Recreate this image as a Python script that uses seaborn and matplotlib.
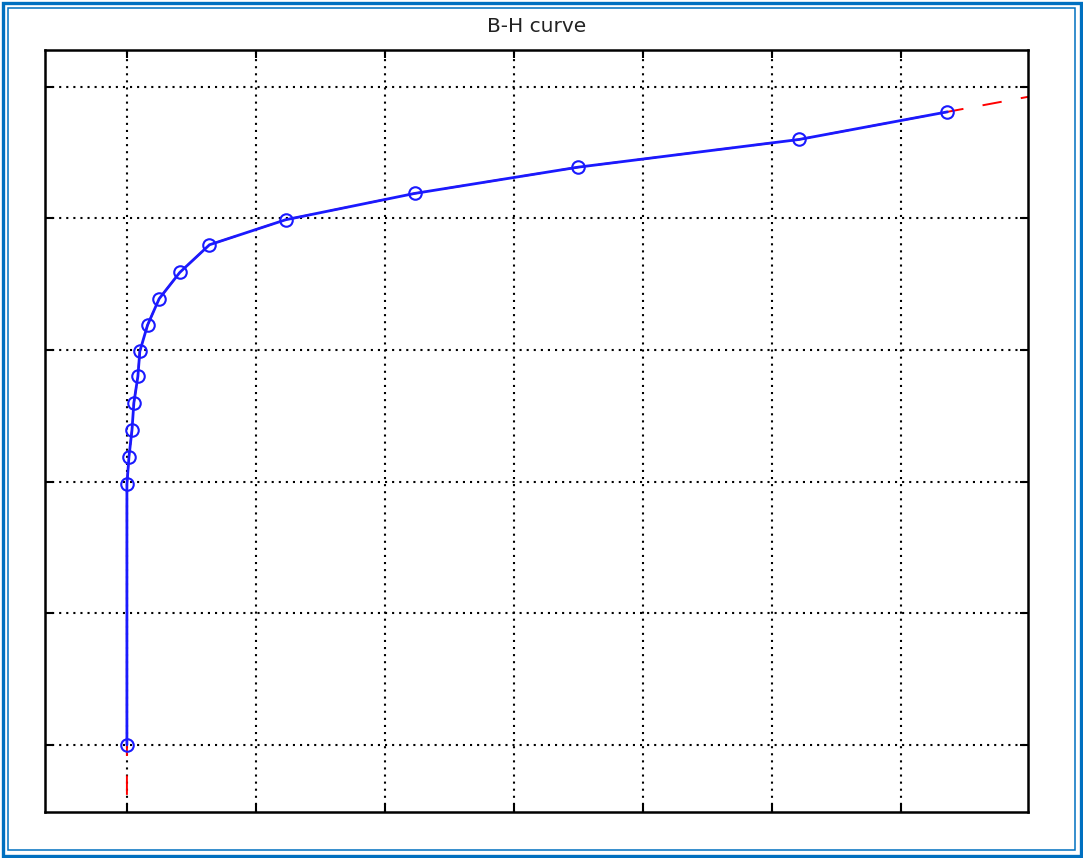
import numpy as np
import pandas as pd
import matplotlib
matplotlib.use("Agg")
import matplotlib.pyplot as plt
import matplotlib.patches as mpatches
import seaborn as sns

# Data (arbitrary units: grid spacing = 1)
H = [0.0, 0.0, 0.016, 0.039, 0.054, 0.085, 0.10, 0.16, 0.25, 0.41, 0.64,
     1.23, 2.23, 3.50, 5.21, 6.36]
B = [0.0, 1.98, 2.19, 2.39, 2.60, 2.80, 2.99, 3.19, 3.39, 3.59, 3.80,
     3.99, 4.19, 4.39, 4.60, 4.81]
x_ticks = [0, 1, 2, 3, 4, 5, 6]
y_ticks = [0, 1, 2, 3, 4, 5]
x_lim = (-0.635, 6.985)
y_lim = (-0.51, 5.28)
b_low = -0.38   # red extrapolation below the first point
title = "B-H curve"

sns.set_theme(style="white")
plt.rcParams['font.family'] = ['DejaVu Sans']

W, Hpx = 1083, 858
fig = plt.figure(figsize=(W / 100, Hpx / 100), dpi=100)
ax = fig.add_axes([45 / W, 1 - 812 / Hpx, (1028 - 45) / W, (812 - 50) / Hpx])

# extrapolated red dashed line built from data
slope = (B[-1] - B[-2]) / (H[-1] - H[-2])
ext_h = [H[0]] + H + [x_lim[1]]
ext_b = [b_low] + B + [B[-1] + slope * (x_lim[1] - H[-1])]
df_ext = pd.DataFrame({"H": ext_h, "B": ext_b})
df = pd.DataFrame({"H": H, "B": B})

sns.lineplot(data=df_ext, x="H", y="B", sort=False, ax=ax, color="red",
             lw=1.4, linestyle=(0, (10, 10)), zorder=2, estimator=None)
sns.lineplot(data=df, x="H", y="B", sort=False, ax=ax, color="#1a1aff",
             lw=2.0, marker="o", markersize=9, markerfacecolor="none",
             markeredgecolor="#1a1aff", markeredgewidth=1.5, zorder=3,
             estimator=None)

ax.set_xlim(*x_lim)
ax.set_ylim(*y_lim)
ax.set_xticks(x_ticks)
ax.set_yticks(y_ticks)
ax.set_xticklabels([])
ax.set_yticklabels([])
ax.set_xlabel("")
ax.set_ylabel("")
ax.grid(True, color="black", linestyle=(0, (1, 2.4)), lw=1.5, zorder=1)
ax.tick_params(direction="in", length=6, width=1.5, color="black",
               top=True, right=True, bottom=True, left=True)
for s in ax.spines.values():
    s.set_color("black")
    s.set_linewidth(1.8)
ax.set_title(title, fontsize=14.5, color="#222222", pad=13)

# double blue frame around the picture
fig.patches.append(mpatches.Rectangle((2.5 / W, 2.5 / Hpx), (W - 5) / W, (Hpx - 5) / Hpx,
                                      transform=fig.transFigure, fill=False,
                                      edgecolor="#0070c0", lw=2.4))
fig.patches.append(mpatches.Rectangle((8 / W, 8 / Hpx), (W - 16) / W, (Hpx - 16) / Hpx,
                                      transform=fig.transFigure, fill=False,
                                      edgecolor="#0070c0", lw=1.1))

fig.savefig("out.png", dpi=100)
